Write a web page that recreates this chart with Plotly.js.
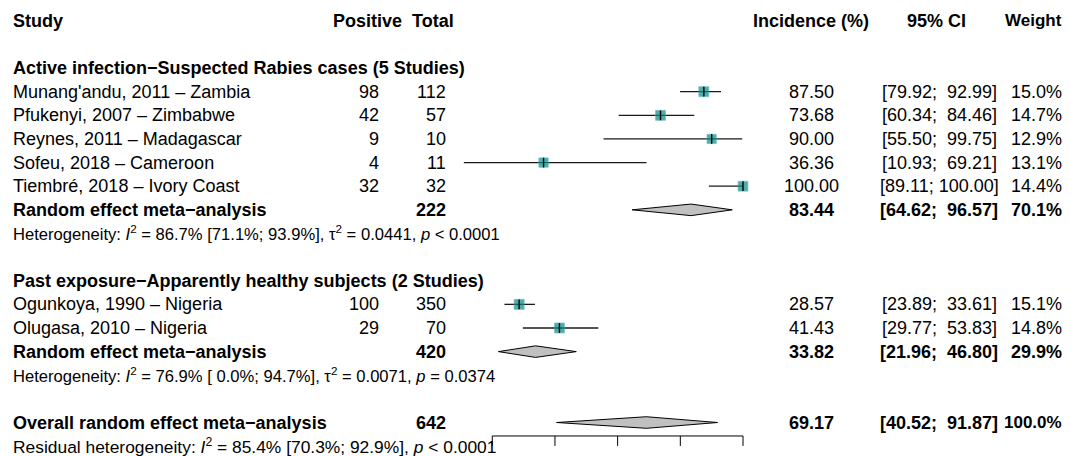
<!DOCTYPE html>
<html>
<head>
<meta charset="utf-8">
<script src="https://cdn.plot.ly/plotly-3.0.1.min.js"></script>
<style>html,body{margin:0;padding:0;background:#fff;}</style>
</head>
<body>
<div id="chart" style="width:1071px;height:456px;"></div>
<script>
// ---- data ----
const studies = ["Munang'andu, 2011 – Zambia", "Pfukenyi, 2007 – Zimbabwe", "Reynes, 2011 – Madagascar",
  "Sofeu, 2018 – Cameroon", "Tiembré, 2018 – Ivory Coast", "Ogunkoya, 1990 – Nigeria", "Olugasa, 2010 – Nigeria"];
const studyGroup = [0, 0, 0, 0, 0, 1, 1];
const positive = [98, 42, 9, 4, 32, 100, 29];
const total = [112, 57, 10, 11, 32, 350, 70];
const incidence = [87.50, 73.68, 90.00, 36.36, 100.00, 28.57, 41.43];
const ciLow = [79.92, 60.34, 55.50, 10.93, 89.11, 23.89, 29.77];
const ciHigh = [92.99, 84.46, 99.75, 69.21, 100.00, 33.61, 53.83];
const weight = [15.0, 14.7, 12.9, 13.1, 14.4, 15.1, 14.8];

const groups = ["Active infection−Suspected Rabies cases (5 Studies)", "Past exposure−Apparently healthy subjects (2 Studies)"];
const groupTotal = [222, 420];
const groupEst = [83.44, 33.82];
const groupLow = [64.62, 21.96];
const groupHigh = [96.57, 46.80];
const groupWeight = [70.1, 29.9];
const groupHet = [
  "Heterogeneity: <i>I</i><sup>2</sup> = 86.7% [71.1%; 93.9%], τ<sup>2</sup> = 0.0441, <i>p</i> &lt; 0.0001",
  "Heterogeneity: <i>I</i><sup>2</sup> = 76.9% [\u00A00.0%; 94.7%], τ<sup>2</sup> = 0.0071, <i>p</i> = 0.0374"
];
const overallLabel = "Overall random effect meta−analysis";
const overallTotal = 642;
const overallEst = 69.17, overallLow = 40.52, overallHigh = 91.87, overallWeight = 100.0;
const residualHet = "Residual heterogeneity: <i>I</i><sup>2</sup> = 85.4% [70.3%; 92.9%], <i>p</i> &lt; 0.0001";
const reLabel = "Random effect meta−analysis";
const headers = ["Study", "Positive", "Total", "Incidence (%)", "95% CI", "Weight"];
const axisTicks = [20, 40, 60, 80, 100];

// ---- layout helpers ----
const W = 1071, H = 456;
const FONT = "Liberation Sans, Arial, Helvetica, sans-serif";
const FS = 18, FSH = 16.6, FSR = 17.4;
const px = v => v / W;
const NB = "\u00A0";
function ci(l, h) {
  return "[" + l.toFixed(2) + ";" + NB + h.toFixed(2).padStart(6, NB) + "]";
}
const COL = {study: 11, pos: 381, tot: 448, inc: 811, ci: 939, w: 1064};

const ann = [];
function txt(x, y, s, anchor, bold, size) {
  ann.push({xref: 'paper', yref: 'y', x: px(x), y: y, text: bold ? "<b>" + s + "</b>" : s,
    xanchor: anchor, yanchor: 'middle', showarrow: false,
    font: {family: FONT, size: size || FS, color: '#000'}});
}

// headers
txt(COL.study, 0, headers[0], 'left', true);
txt(367.5, 0, headers[1], 'center', true);
txt(433, 0, headers[2], 'center', true);
txt(COL.inc, 0, headers[3], 'center', true);
txt(936, 0, headers[4], 'center', true);
txt(COL.w, 0, headers[5], 'right', true, 17);

// rows
const studyRow = [];
const groupRows = [];
let row = 2;
for (let g = 0; g < groups.length; g++) {
  const gr = {header: row};
  txt(COL.study, row, groups[g], 'left', true);
  row++;
  for (let i = 0; i < studies.length; i++) {
    if (studyGroup[i] !== g) continue;
    studyRow[i] = row;
    txt(COL.study, row, studies[i], 'left', false);
    txt(COL.pos, row, String(positive[i]), 'right', false);
    txt(COL.tot, row, String(total[i]), 'right', false);
    txt(COL.inc, row, incidence[i].toFixed(2), 'center', false);
    txt(COL.ci, row, ci(ciLow[i], ciHigh[i]), 'center', false);
    txt(COL.w, row, weight[i].toFixed(1) + "%", 'right', false);
    row++;
  }
  gr.re = row;
  txt(COL.study, row, reLabel, 'left', true);
  txt(COL.tot, row, String(groupTotal[g]), 'right', true);
  txt(COL.inc, row, groupEst[g].toFixed(2), 'center', true);
  txt(COL.ci, row, ci(groupLow[g], groupHigh[g]), 'center', true);
  txt(COL.w, row, groupWeight[g].toFixed(1) + "%", 'right', true);
  row++;
  txt(COL.study, row, groupHet[g], 'left', false, FSH);
  row += 2;
  groupRows.push(gr);
}
const overallRow = row;
txt(COL.study, row, overallLabel, 'left', true);
txt(COL.tot, row, String(overallTotal), 'right', true);
txt(COL.inc, row, overallEst.toFixed(2), 'center', true);
txt(COL.ci, row, ci(overallLow, overallHigh), 'center', true);
txt(COL.w, row, overallWeight.toFixed(1) + "%", 'right', true, 17);
row++;
txt(COL.study, row, residualHet, 'left', false, FSR);

// ---- traces ----
const traces = [];
// CI lines
const lx = [], ly = [];
studies.forEach((s, i) => { lx.push(ciLow[i], ciHigh[i], null); ly.push(studyRow[i], studyRow[i], null); });
traces.push({type: 'scatter', mode: 'lines', x: lx, y: ly, line: {color: '#1a1a1a', width: 1.3}, hoverinfo: 'skip'});
// squares
traces.push({type: 'scatter', mode: 'markers', x: incidence, y: studyRow,
  marker: {symbol: 'square', size: weight.map(w => 10 * Math.sqrt(w / 15)), color: '#078888',
    line: {color: '#3fa8a8', width: 0.8}}, hoverinfo: 'skip'});
// estimate ticks
traces.push({type: 'scatter', mode: 'markers', x: incidence, y: studyRow,
  marker: {symbol: 'line-ns', size: 7, line: {color: '#000', width: 1.4}}, hoverinfo: 'skip'});
// diamonds
const DH = 0.245;
function diamond(est, lo, hi, r) {
  traces.push({type: 'scatter', mode: 'lines', x: [lo, est, hi, est, lo], y: [r, r - DH, r, r + DH, r],
    fill: 'toself', fillcolor: '#c0c0c0', line: {color: '#000', width: 1}, hoverinfo: 'skip'});
}
groupRows.forEach((gr, g) => diamond(groupEst[g], groupLow[g], groupHigh[g], gr.re));
diamond(overallEst, overallLow, overallHigh, overallRow);

// axis drawn as shapes in data coordinates
const axisY = overallRow + 0.57, tickLen = 0.42;
const shapes = [{type: 'line', xref: 'x', yref: 'y', x0: axisTicks[0], x1: axisTicks[axisTicks.length - 1],
  y0: axisY, y1: axisY, line: {color: '#000', width: 1}}];
axisTicks.forEach(t => shapes.push({type: 'line', xref: 'x', yref: 'y', x0: t, x1: t, y0: axisY, y1: axisY + tickLen,
  line: {color: '#000', width: 1}}));

// pixel mapping: value 0 at px 429.6, 3.134 px per unit; row 0 at px 20.8, 23.63 px per row
const X0 = 429.6, XS = 3.134, Y0 = 20.8, YS = 23.63;
const layout = {
  width: W, height: H, margin: {l: 0, r: 0, t: 0, b: 0, pad: 0},
  paper_bgcolor: '#fff', plot_bgcolor: '#fff', showlegend: false,
  xaxis: {range: [-X0 / XS, (W - X0) / XS], visible: false, fixedrange: true},
  yaxis: {range: [(H - Y0) / YS, -Y0 / YS], visible: false, fixedrange: true},
  annotations: ann, shapes: shapes
};
Plotly.newPlot('chart', traces, layout, {staticPlot: true, displayModeBar: false});
</script>
</body>
</html>
